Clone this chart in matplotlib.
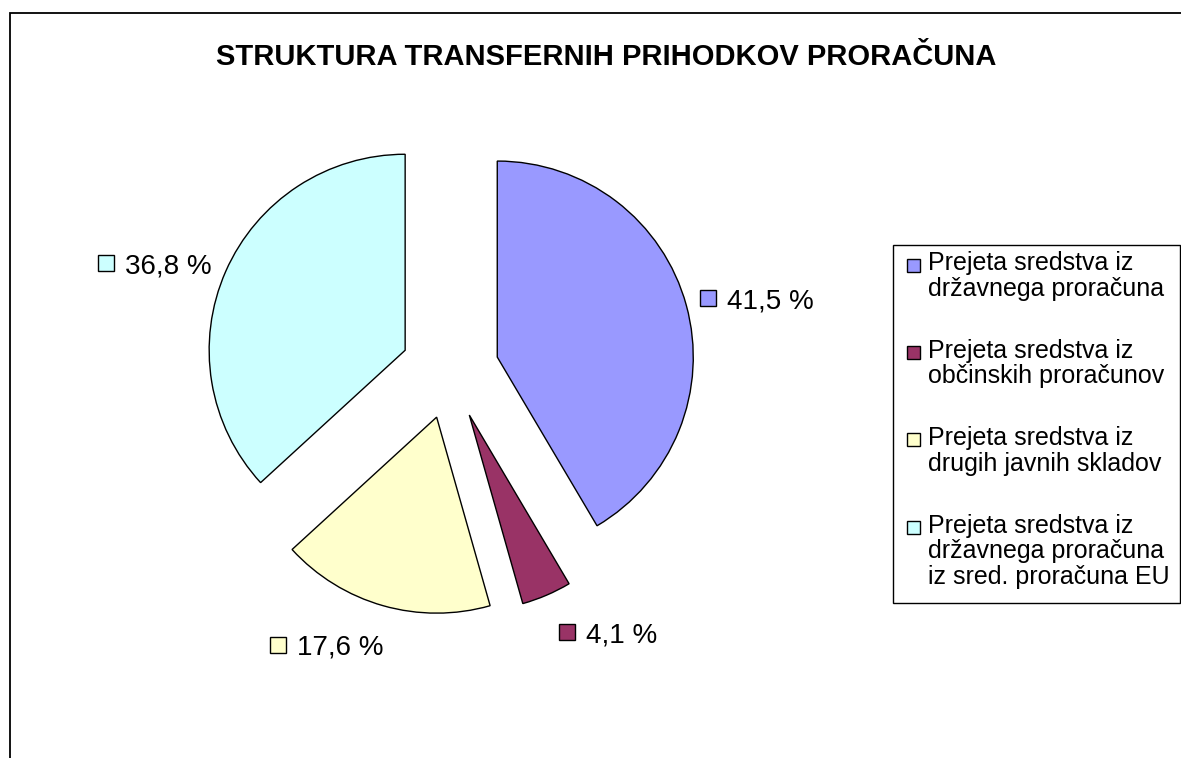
import matplotlib
matplotlib.use("Agg")
import matplotlib.pyplot as plt
from matplotlib.patches import Rectangle

# Canvas size in pixels
W, H = 1181, 758
DPI = 100

title = 'STRUKTURA TRANSFERNIH PRIHODKOV PRORAČUNA'
categories = [
    'Prejeta sredstva iz\ndržavnega proračuna',
    'Prejeta sredstva iz\nobčinskih proračunov',
    'Prejeta sredstva iz\ndrugih javnih skladov',
    'Prejeta sredstva iz\ndržavnega proračuna\niz sred. proračuna EU',
]
shares = [41.5, 4.1, 17.6, 36.8]
colors = ['#9999FF', '#993366', '#FFFFCC', '#CCFFFF']

plt.rcParams['font.family'] = ['Liberation Sans', 'DejaVu Sans']

fig = plt.figure(figsize=(W / DPI, H / DPI), dpi=DPI)


def fx(px):
    return px / W


def fy(py):
    return 1 - py / H


# outer chart frame (runs off the right and bottom edge like the source)
fig.add_artist(Rectangle((fx(10), -0.2), 1.2, fy(13) + 0.2, transform=fig.transFigure,
                         fill=False, edgecolor='black', lw=1.3))

fig.text(fx(606), fy(57), title, ha='center', va='center', fontsize=21, fontweight='bold')

# Pie: centre and radius in pixels
R = 196
cx, cy = 450, 370
half = 300
ax = fig.add_axes([fx(cx - half), fy(cy + half), 2 * half / W, 2 * half / H])
wedges, _ = ax.pie(shares, colors=colors, startangle=90, counterclock=False,
                   explode=[0.25] * len(shares), radius=1,
                   wedgeprops=dict(edgecolor='black', linewidth=1))
ax.set_xlim(-half / R, half / R)
ax.set_ylim(-half / R, half / R)
ax.axis('off')

# data labels: square key + value; (text left x, centre y) in pixels
label_pos = [(727, 298), (586, 632), (297, 645), (125, 263)]
for (px, py), v, c in zip(label_pos, shares, colors):
    fig.add_artist(Rectangle((fx(px - 27), fy(py + 8)), 16 / W, 16 / H, transform=fig.transFigure,
                             facecolor=c, edgecolor='black', lw=1))
    fig.text(fx(px), fy(py), f'{v:.1f}'.replace('.', ',') + ' %',
             ha='left', va='center_baseline', fontsize=20)

# legend drawn by hand so the key sits on the first line of each entry
fig.add_artist(Rectangle((fx(893), fy(603)), (1180 - 893) / W, (603 - 245) / H,
                         transform=fig.transFigure, fill=False, edgecolor='black', lw=1))
for i, (lab, c) in enumerate(zip(categories, colors)):
    y0 = 265 + 87.5 * i
    fig.add_artist(Rectangle((fx(906.5), fy(y0 + 6.5)), 13 / W, 13 / H, transform=fig.transFigure,
                             facecolor=c, edgecolor='black', lw=1))
    fig.text(fx(928), fy(y0 - 14), lab, ha='left', va='top', fontsize=18, linespacing=1.09)

fig.savefig('out.png', dpi=DPI)
